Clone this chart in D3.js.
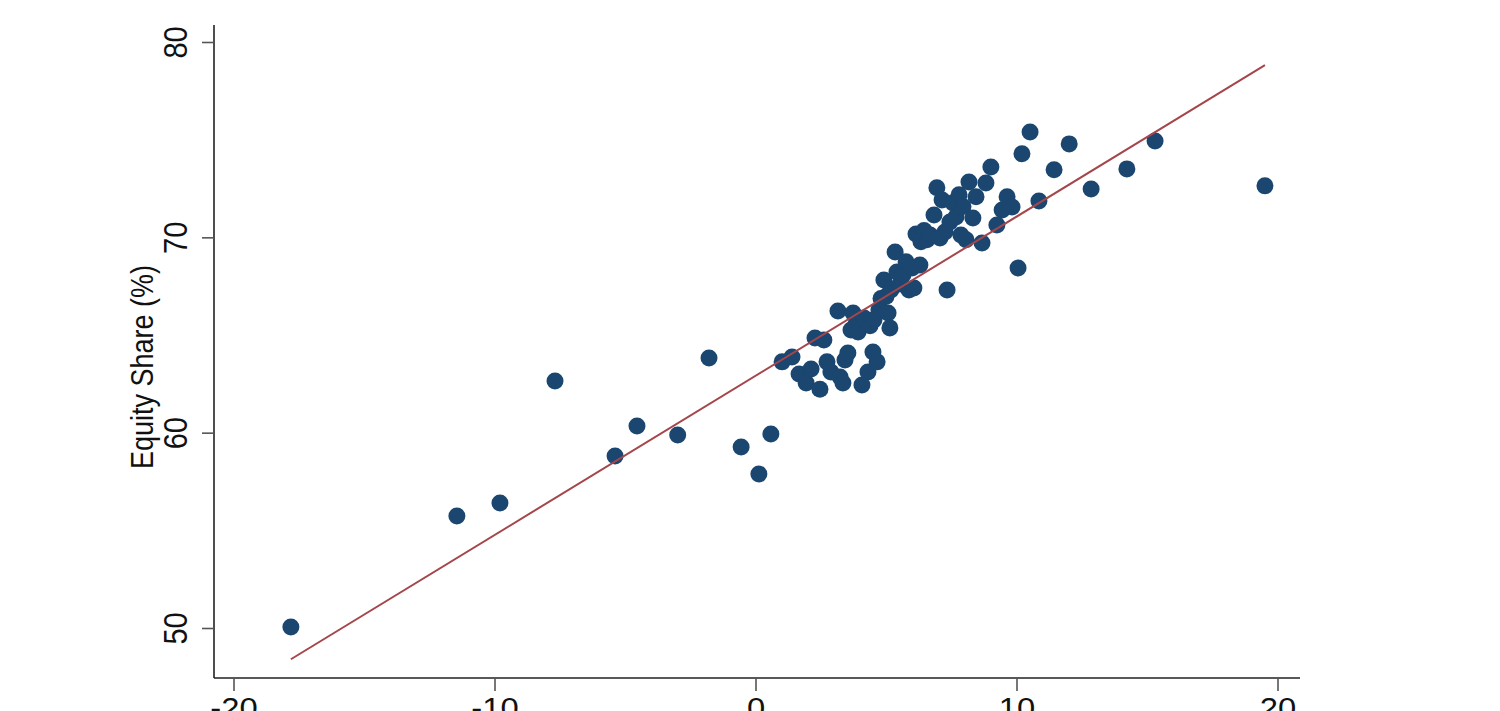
<!DOCTYPE html>
<html>
<head>
<meta charset="utf-8">
<script src="https://cdn.jsdelivr.net/npm/d3@7"></script>
<style>
  html, body { margin: 0; padding: 0; background: #fff; overflow: hidden; }
  text { font-family: "Liberation Sans", Arial, sans-serif; fill: #111; }
</style>
</head>
<body>
<div id="chart"></div>
<script>
// growth (x) vs equity share in % (y)
var growth = [-17.82, -11.46, -9.81, -7.70, -5.40, -4.56, -3.00, -1.80, -0.57, 0.11,
  0.57, 1.00, 1.38, 1.65, 1.92, 2.11, 2.26, 2.45, 2.60, 2.72,
  2.87, 3.14, 3.22, 3.33, 3.41, 3.52, 3.64, 3.72, 3.83, 3.91,
  4.06, 4.14, 4.29, 4.37, 4.48, 4.52, 4.64, 4.71, 4.79, 4.90,
  4.98, 5.06, 5.13, 5.17, 5.33, 5.40, 5.52, 5.63, 5.75, 5.86,
  5.98, 6.05, 6.13, 6.28, 6.32, 6.44, 6.55, 6.67, 6.82, 6.93,
  7.05, 7.13, 7.24, 7.32, 7.43, 7.55, 7.66, 7.78, 7.85, 7.93,
  8.05, 8.16, 8.31, 8.43, 8.66, 8.81, 9.00, 9.23, 9.43, 9.62,
  9.81, 10.04, 10.19, 10.50, 10.84, 11.42, 12.00, 12.84, 14.21, 15.29,
  19.50];
var equityShare = [50.08, 55.76, 56.43, 62.67, 58.83, 60.37, 59.91, 63.85, 59.29, 57.91,
  59.96, 63.65, 63.90, 63.03, 62.57, 63.28, 64.87, 62.25, 64.77, 63.65,
  63.13, 66.26, 62.88, 62.57, 63.75, 64.10, 65.28, 66.15, 65.60, 65.18,
  62.47, 65.90, 63.13, 65.50, 64.16, 65.80, 63.65, 66.30, 66.90, 67.84,
  67.00, 66.15, 65.39, 67.33, 69.28, 68.25, 67.64, 68.10, 68.77, 67.33,
  68.46, 67.43, 70.20, 68.61, 69.80, 70.37, 69.90, 70.15, 71.17, 72.56,
  69.99, 71.94, 70.30, 67.33, 70.81, 71.79, 71.07, 72.20, 70.15, 71.60,
  69.90, 72.86, 71.02, 72.10, 69.74, 72.81, 73.63, 70.66, 71.43, 72.10,
  71.58, 68.46, 74.30, 75.42, 71.89, 73.48, 74.81, 72.50, 73.53, 74.96,
  72.66];
var xTicks = [-20, -10, 0, 10, 20];
var yTicks = [50, 60, 70, 80];
var fitIntercept = 62.95, fitSlope = 0.815;

var points = growth.map(function(g, i) { return {x: g, y: equityShare[i]}; });

var width = 1500, height = 711;
var svg = d3.select("#chart").append("svg")
  .attr("width", width)
  .attr("height", height);

var x = d3.scaleLinear().domain([-20, 20]).range([234, 1278]);
var y = d3.scaleLinear().domain([50, 80]).range([628.5, 42.5]);

var axisLeftX = 214, axisBottomY = 678;

// axes lines
svg.append("line")
  .attr("x1", axisLeftX).attr("x2", axisLeftX)
  .attr("y1", 25).attr("y2", axisBottomY)
  .style("stroke", "#222").style("stroke-width", 1.6);
svg.append("line")
  .attr("x1", axisLeftX).attr("x2", 1300)
  .attr("y1", axisBottomY).attr("y2", axisBottomY)
  .style("stroke", "#222").style("stroke-width", 1.6);

// y ticks
svg.selectAll(".ytick").data(yTicks).enter().append("line")
  .attr("class", "ytick")
  .attr("x1", axisLeftX - 12).attr("x2", axisLeftX)
  .attr("y1", function(d) { return y(d); })
  .attr("y2", function(d) { return y(d); })
  .style("stroke", "#555").style("stroke-width", 1.6);

svg.selectAll(".ylab").data(yTicks).enter().append("text")
  .attr("class", "ylab")
  .attr("transform", function(d) { return "translate(187," + y(d) + ") rotate(-90) scale(1,1.13)"; })
  .attr("text-anchor", "middle")
  .style("font-size", "29px")
  .text(function(d) { return d; });

// x ticks
svg.selectAll(".xtick").data(xTicks).enter().append("line")
  .attr("class", "xtick")
  .attr("x1", function(d) { return x(d); })
  .attr("x2", function(d) { return x(d); })
  .attr("y1", axisBottomY).attr("y2", axisBottomY + 13)
  .style("stroke", "#555").style("stroke-width", 1.6);

svg.selectAll(".xlab").data(xTicks).enter().append("text")
  .attr("class", "xlab")
  .attr("transform", function(d) { return "translate(" + x(d) + ",718) scale(1.13,1)"; })
  .attr("text-anchor", "middle")
  .style("font-size", "29px")
  .text(function(d) { return d < 0 ? "-" + Math.abs(d) : d; });

// axis title
svg.append("text")
  .attr("transform", "translate(153,367) rotate(-90) scale(1,1.13)")
  .attr("text-anchor", "middle")
  .style("font-size", "27px")
  .text("Equity Share (%)");

// scatter
svg.selectAll(".dot").data(points).enter().append("circle")
  .attr("class", "dot")
  .attr("cx", function(d) { return x(d.x); })
  .attr("cy", function(d) { return y(d.y); })
  .attr("r", 8.5)
  .style("fill", "#1a4670");

// fitted line
var xExt = d3.extent(growth);
svg.append("line")
  .attr("x1", x(xExt[0])).attr("y1", y(fitIntercept + fitSlope * xExt[0]))
  .attr("x2", x(xExt[1])).attr("y2", y(fitIntercept + fitSlope * xExt[1]))
  .style("stroke", "#a4464b").style("stroke-width", 2);
</script>
</body>
</html>
